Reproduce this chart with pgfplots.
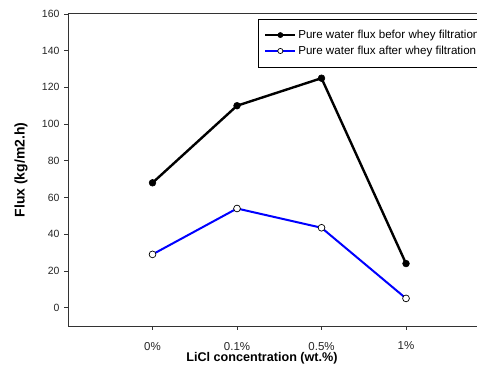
\documentclass[border=0pt]{standalone}
\usepackage{fontspec}
\setmainfont{Liberation Sans}
\usepackage{pgfplots}
\pgfplotsset{compat=1.18}
\begin{document}
\begin{tikzpicture}
\begin{axis}[
  scale only axis, width=422.5pt, height=312pt,
  xmin=-1, xmax=4, ymin=-10, ymax=160,
  axis x line=box, axis y line=left,
  axis line style={-, line width=0.9pt, black!80},
  xtick={0,1,2,3}, xticklabels={0\%,0.1\%,0.5\%,1\%},
  ytick={0,20,...,160},
  xtick pos=bottom, ytick pos=left,
  tick align=outside, major tick length=4pt,
  tick style={black!80, line width=0.7pt},
  /pgf/number format/assume math mode=true,
  yticklabel style={font=\fontsize{10.5}{12}\selectfont, color=black!85, xshift=-1pt},
  xticklabel style={font=\fontsize{11.5}{13}\selectfont, color=black!85, yshift=-8.5pt},
  clip=false,
  xlabel={\textbf{LiCl concentration (wt.\%)}},
  ylabel={\textbf{Flux (kg/m2.h)}},
  xlabel style={font=\fontsize{12.6}{14}\selectfont, at={(axis description cs:0.459,-0.1026)}, anchor=center},
  ylabel style={font=\fontsize{14}{16}\selectfont, at={(axis description cs:-0.111,0.5)}, anchor=center, rotate=0},
  legend style={at={(axis cs:1.249,157.4)}, anchor=north west,
    font=\fontsize{11.6}{13.5}\selectfont, draw=black, line width=0.8pt,
    inner ysep=9pt, inner xsep=6pt, row sep=2pt, cells={anchor=west}},
  legend image code/.code={
    \draw[mark repeat=2, mark phase=2, #1, line width=1.8pt, mark size=2.6pt]
      plot coordinates {(0pt,0pt) (15pt,0pt) (30pt,0pt)};},
  legend cell align=left,
]
\addplot[black, line width=2.4pt, mark=*, mark size=3.4pt, mark options={solid, fill=black, line width=0.5pt}]
  coordinates {(0,68) (1,110) (2,125) (3,24)};
\addlegendentry{Pure water flux befor whey filtration}
\addplot[blue, line width=2pt, mark=*, mark size=3.4pt, mark options={solid, fill=white, draw=black, line width=0.7pt}]
  coordinates {(0,29) (1,54) (2,43.5) (3,5)};
\addlegendentry{Pure water flux after whey filtration}
\coordinate (bbsw) at (axis cs:-1.805,-38.9);
\coordinate (bbne) at (axis cs:3.84,167.6);
\end{axis}
\pgfresetboundingbox
\useasboundingbox (bbsw) rectangle (bbne);
\end{tikzpicture}
\end{document}
